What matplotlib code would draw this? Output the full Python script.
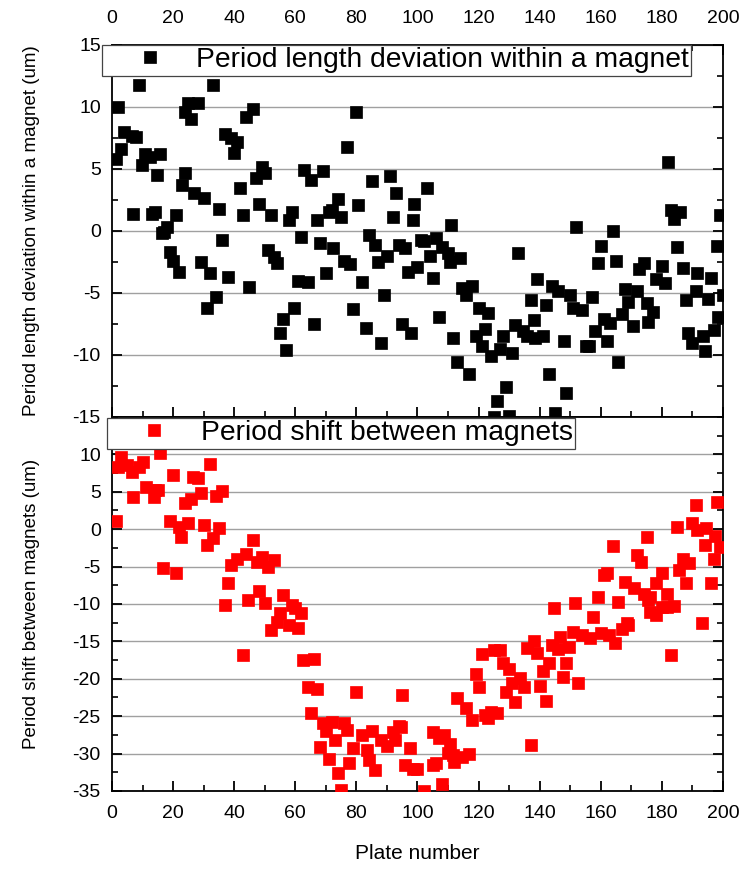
import matplotlib
matplotlib.use("Agg")
import matplotlib.pyplot as plt
from matplotlib.ticker import MultipleLocator

plt.rcParams['font.family'] = ['Liberation Sans', 'DejaVu Sans']
plt.rcParams['axes.unicode_minus'] = False

# Top panel: period length deviation within a magnet (um)
dev_x = [1.3, 2, 3, 4, 6.5, 7, 8, 8.8, 9.8, 10.8, 12.4, 13, 14, 14.7, 15.7, 16.5, 17, 18, 19, 20,
         21, 22, 23, 24, 24, 25, 26, 27, 28, 29, 30, 31, 32, 33, 34, 35, 36, 37, 38, 39,
         40, 41, 42, 43, 44, 45, 46, 47, 48, 49, 50, 51, 52, 53, 54, 55, 56, 57, 58, 59,
         59.5, 61, 62, 63, 64, 65, 66, 67, 68, 69, 70, 71, 72, 72.5, 74, 75, 76, 77, 78, 79,
         80, 80.5, 82, 83, 84, 85, 86, 87, 88, 89, 90, 91, 92, 93, 94, 95, 96, 97, 98, 98.5,
         99, 100, 101, 102, 103, 104, 105, 106, 107, 108, 110, 110.5, 111, 111.5, 113, 114, 114.5, 116, 117, 118,
         119, 120, 121, 122, 123, 124, 125, 126, 127, 128, 129, 130, 131, 132, 133, 134.5, 136, 137, 138, 138.5,
         139, 141, 142, 143, 144, 145, 146, 148, 148.6, 150, 151, 152, 154, 155, 156, 157, 158, 159, 160, 161,
         162, 163, 164, 165, 165.6, 167, 168, 169, 170.5, 172, 172.5, 174, 175, 175.5, 177, 178, 180, 181, 182, 183,
         184, 185, 186, 187, 188, 188.5, 190, 191, 191.5, 193.5, 194, 195, 196, 197, 198, 198.5, 199, 200]
dev_y = [5.8, 10.0, 6.6, 8.0, 7.7, 1.4, 7.6, 11.8, 5.3, 6.2, 6.0, 1.4, 1.5, 4.5, 6.2, -0.2, -0.1, 0.3, -1.7, -2.4,
         1.3, -3.3, 3.7, 4.7, 9.6, 10.3, 9.0, 3.1, 10.3, -2.5, 2.7, -6.2, -3.4, 11.8, -5.3, 1.8, -0.7, 7.8, -3.7, 7.5,
         6.3, 7.2, 3.5, 1.3, 9.2, -4.5, 9.8, 4.3, 2.2, 5.2, 4.7, -1.5, 1.3, -2.1, -2.6, -8.2, -7.1, -9.6, 0.9, 1.5,
         -6.2, -4.0, -0.5, 4.9, -4.1, 4.1, -7.5, 0.9, -1.0, 4.8, -3.4, 1.5, 1.7, -1.4, 2.6, 1.1, -2.4, 6.8, -2.7, -6.3,
         9.6, 2.1, -4.1, -7.8, -0.3, 4.0, -1.1, -2.5, -9.0, -5.2, -2.0, 4.4, 1.1, 3.1, -1.1, -7.5, -1.4, -3.3, -8.2, 0.9,
         2.2, -2.9, -0.7, -0.8, 3.5, -2.0, -3.8, -0.6, -6.9, -1.3, -1.8, -2.5, 0.5, -8.6, -10.6, -2.2, -4.6, -5.2, -11.5, -4.4,
         -8.5, -6.2, -9.3, -7.9, -6.6, -10.1, -15.0, -13.7, -9.5, -8.5, -12.6, -14.9, -9.8, -7.6, -1.8, -8.1, -8.5, -5.6, -7.2, -8.6,
         -3.9, -8.5, -6.0, -11.5, -4.4, -14.7, -4.8, -8.9, -13.1, -5.2, -6.2, 0.3, -6.4, -9.3, -9.3, -5.3, -8.1, -2.6, -1.2, -7.1,
         -8.9, -7.4, 0.0, -2.4, -10.6, -6.7, -4.7, -5.7, -7.7, -4.8, -3.1, -2.6, -5.8, -7.3, -6.5, -3.9, -2.8, -4.2, 5.6, 1.7,
         1.0, -1.3, 1.5, -3.0, -5.6, -8.2, -9.0, -4.8, -3.4, -8.5, -9.7, -5.5, -3.8, -8.0, -1.2, -6.9, 1.3, -5.2]

# Bottom panel: period shift between magnets (um)
shift_x = [1.3, 2, 3, 5, 6.5, 7, 9, 10, 11, 13.7, 14, 15, 15.7, 16.7, 19, 20, 21, 22, 22.5, 24,
           25, 26, 26.5, 28, 29, 30, 31, 32, 33, 34, 35, 36, 37, 38, 39, 41, 43, 44, 44.5, 46,
           47.5, 48, 49, 50, 51, 52, 53, 54, 55, 56, 58, 59, 60, 61, 62, 62.5, 64, 65, 66, 67,
           68, 69, 70, 71, 72, 73, 74, 75, 76, 77, 77.6, 79, 80, 82, 83.5, 84, 85, 86, 88, 90,
           92, 92.6, 94, 94.5, 95, 96, 97.5, 98.5, 100, 102, 105, 105, 106, 107, 108, 108.7, 110, 110.6, 111.6, 112,
           113, 114.6, 116, 117, 118, 119, 120, 121, 122, 123, 124, 125, 126, 127, 128, 129, 130, 131, 132, 133.5,
           135, 136, 137, 138, 139, 140, 141, 142, 143, 144, 144.7, 146, 146.6, 147.6, 148.6, 149.6, 151, 151.5, 152.5, 154,
           156.5, 157.5, 159, 160, 161, 162, 162.7, 164, 164.6, 165.6, 167, 168, 168.5, 169, 171, 172, 173, 174, 175, 175.5,
           176, 176, 178, 178, 180, 180, 181.6, 181.6, 183, 184, 185, 185.6, 187, 188, 189, 190, 191, 191.5, 193, 194,
           194.5, 196, 197, 197.5, 198, 199]
shift_y = [1.1, 8.3, 9.6, 8.6, 7.6, 4.3, 8.3, 9.0, 5.6, 4.3, 5.3, 5.2, 10.2, -5.2, 1.1, 7.2, -5.9, 0.3, -1.1, 3.5,
           0.8, 4.1, 7.0, 6.8, 4.9, 0.5, -2.1, 8.7, -1.2, 4.5, 0.1, 5.1, -10.2, -7.2, -4.8, -4.0, -16.8, -3.3, -9.4, -1.5,
           -4.4, -8.2, -3.7, -9.9, -5.1, -13.5, -4.1, -12.4, -11.2, -8.8, -12.8, -10.2, -10.5, -13.2, -11.2, -17.5, -21.1, -24.6, -17.4, -21.4,
           -29.1, -25.9, -27.0, -30.7, -25.8, -28.2, -32.6, -34.9, -25.9, -26.9, -31.3, -29.3, -21.8, -27.5, -29.5, -30.9, -27.0, -32.2, -28.2, -29.0,
           -27.1, -28.2, -26.3, -26.5, -22.2, -31.5, -29.3, -32.0, -32.0, -35.0, -31.5, -27.1, -31.3, -27.9, -34.0, -27.5, -29.9, -28.7, -30.2, -31.1,
           -22.6, -30.5, -23.9, -30.1, -25.5, -19.4, -21.1, -16.7, -24.9, -25.3, -24.5, -16.2, -24.6, -16.2, -17.9, -21.8, -18.7, -20.5, -23.1, -19.9,
           -21.1, -15.9, -28.9, -15.0, -16.6, -20.9, -19.0, -23.0, -17.9, -15.5, -10.6, -16.0, -14.4, -19.8, -17.9, -15.8, -13.8, -9.9, -20.5, -14.2,
           -14.6, -11.8, -9.0, -13.9, -6.1, -5.9, -14.2, -2.3, -15.2, -9.7, -13.4, -7.1, -12.6, -12.8, -7.8, -3.5, -4.4, -8.6, -1.1, -9.5,
           -11.1, -9.1, -11.5, -7.2, -5.9, -10.4, -8.6, -10.4, -16.8, -10.3, 0.3, -5.5, -4.0, -7.2, -4.5, 0.8, 3.2, -0.1, -12.6, -2.1,
           0.1, -7.2, -4.0, -0.9, 3.6, -2.4]

x_label = "Plate number"
top_ylabel = "Period length deviation within a magnet (um)"
bot_ylabel = "Period shift between magnets (um)"
top_legend = "Period length deviation within a magnet"
bot_legend = "Period shift between magnets"

fig = plt.figure(figsize=(7.49, 8.72), dpi=100)
L, R = 0.1495, 0.9653
ax1 = fig.add_axes([L, 0.5218, R - L, 0.9484 - 0.5218])
ax2 = fig.add_axes([L, 0.0929, R - L, 0.5218 - 0.0929], sharex=ax1)

ms = 8.5
ax1.plot(dev_x, dev_y, linestyle='none', marker='s', ms=ms, mew=0.5, color='black',
         label=top_legend, zorder=3)
ax2.plot(shift_x, shift_y, linestyle='none', marker='s', ms=ms, mew=0.5, color='#ff0000',
         label=bot_legend, zorder=3)

for ax in (ax1, ax2):
    ax.set_xlim(0, 200)
    ax.xaxis.set_major_locator(MultipleLocator(20))
    ax.xaxis.set_minor_locator(MultipleLocator(10))
    ax.yaxis.set_minor_locator(MultipleLocator(2.5))
    for s in ax.spines.values():
        s.set_linewidth(1.3)
    ax.tick_params(which='major', direction='in', length=7, width=1.3, labelsize=14)
    ax.tick_params(which='minor', direction='in', length=4, width=1.2)
    ax.tick_params(axis='y', which='major', pad=8)
    ax.grid(axis='y', which='major', color='#a0a0a0', linewidth=1.0, zorder=0)
    ax.set_axisbelow(True)

ax1.set_ylim(-15, 15)
ax1.set_yticks(range(-15, 16, 5))
ax1.tick_params(which='both', top=True, bottom=True, left=True, right=True,
                labeltop=True, labelbottom=False, labelleft=True, labelright=False)
ax1.tick_params(axis='x', which='major', pad=13)

ax2.set_ylim(-35, 15)
ax2.set_yticks(range(-35, 11, 5))
ax2.tick_params(which='both', top=False, bottom=True, left=True, right=True,
                labeltop=False, labelbottom=True, labelleft=True, labelright=False)
ax2.tick_params(axis='x', which='major', pad=10)

ax1.set_ylabel(top_ylabel, fontsize=13.5)
ax2.set_ylabel(bot_ylabel, fontsize=13.5)
ax1.yaxis.set_label_coords(-0.118, 0.5)
ax2.yaxis.set_label_coords(-0.118, 0.5)
ax2.set_xlabel(x_label, fontsize=15, labelpad=16)

legkw = dict(loc='upper left', fontsize=20.3, handlelength=3.2, handletextpad=0.05,
             borderpad=0.08, borderaxespad=0, fancybox=False, framealpha=1,
             edgecolor='#444444', numpoints=1)
lg1 = ax1.legend(bbox_to_anchor=(-0.016, 1.0), **legkw)
lg2 = ax2.legend(bbox_to_anchor=(-0.008, 0.997), **legkw)
for lg in (lg1, lg2):
    lg.get_frame().set_linewidth(0.9)
    lg.set_zorder(5)

fig.savefig("out.png", dpi=100)
